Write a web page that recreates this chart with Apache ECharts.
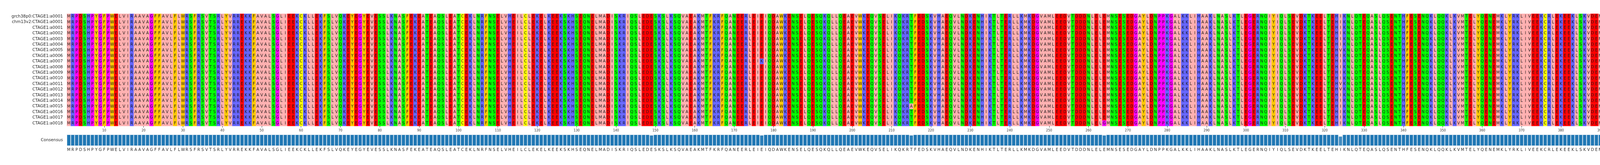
<!DOCTYPE html>
<html><head><meta charset="utf-8">
<script src="https://cdn.jsdelivr.net/npm/echarts@6/dist/echarts.min.js"></script>
<style>html,body{margin:0;padding:0;background:#fff}#c{width:7744px;height:423px}</style>
</head><body><div id="c"></div>
<script>
const rowNames = ['grch38p0:CTAGE1:a0001','chm13v2:CTAGE1:a0001','CTAGE1:a0001','CTAGE1:a0002','CTAGE1:a0003','CTAGE1:a0004','CTAGE1:a0005','CTAGE1:a0006','CTAGE1:a0007','CTAGE1:a0008','CTAGE1:a0009','CTAGE1:a0010','CTAGE1:a0011','CTAGE1:a0012','CTAGE1:a0013','CTAGE1:a0014','CTAGE1:a0015','CTAGE1:a0016','CTAGE1:a0017','CTAGE1:a0018'];
const consensusParts = [
 'MRPDSHPYGFPWELVIRAAVAGFFAVLFLWRSFRSVTSRLYVRREKKFAVALSGLIEEKCKLLEKFSLVQKEYE',
 'GYEVESSLKNASFEKEATEAQSLEATCEKLNRFNSELVHEILCLEKELKEEKSKHSEQNELMADISKRIQSL',
 'EDESKSLKSQVAEAKMTFKRFQANEERLEIEIQDAWKENSELQESQKQLLQEAEVWKEQVSELIKQKRTFED',
 'SKVHAEQVLNDKENHIKTLTERLLKMKDGVAMLEEDVTDDDNLELEMNSESEDGAYLDNPPKGALKKLIHA',
 'AKLNASLKTLEGERNQIYIQLSEVDKTKEELTEHIKNLQTEQASLQSENTHFESENQKLQQKLKVMTELYQ',
 'ENEMKLYRKLIVEEKCRLEKEEKLSKVDEMISHATEELETYRKRAKDLKEFEKTIHFYQKKIILHEKKAHDN',
 'WSAAWTAERNLNDLRKENAHNRQKLTEIEFKIKLLEKDPYGLDVPNTAFGRQHSPYGPSPLGWPSSETRASL',
 'YPPTLLEGPLRLSPLLPRGGGRGSRGPGNPPDHQITKERGESSCDRLTDPHRAPSDAGPLAPPWEQDYRMMF',
 'PPPGQSYPDSALPPQRQDRFYSNCARLSGPAELRSFNMPSLDKMDGSMPSEMESSRNDTKDNLGNLKVPDS',
 'SLPAENEATGPGFVPPPLAPIRGLLFPVDTRGPFIRRGPPFPPPPPGTVFGASPDYFSPRDVPGPPRAPFAM',
 'RNVYLPRGFLPYRPPRPAFFPPAPTF'
];
// [row index, column (1-based), residue]
const variants = [[8,177,'K'],[11,149,'D'],[16,215,'A'],[19,264,'G'],[6,324,'V'],[12,324,'V'],[13,324,'V'],
 [10,414,'I'],[18,411,'L'],[13,468,'G'],[14,475,'G'],[15,550,'K'],[17,614,'I'],
 [3,682,'V'],[6,682,'V'],[9,682,'V'],[15,682,'V'],[17,682,'V'],[19,682,'V'],
 [4,667,'L'],[5,686,'T'],[7,696,'M'],[9,696,'M']];

const consensus = consensusParts.join('').split('');
const nCol = consensus.length;
const seqs = rowNames.map(() => consensus.slice());
variants.forEach(([r,c,a]) => { seqs[r][c-1] = a; });
const positions = consensus.map((_,i) => String(i+1));
const conservation = consensus.map((a,i) => seqs.filter(s => s[i] === a).length / seqs.length);

const zappo = {};
'ILVAM'.split('').forEach(a=>zappo[a]='#ffafaf');
'FWY'.split('').forEach(a=>zappo[a]='#ffc800');
'KRH'.split('').forEach(a=>zappo[a]='#6464ff');
'DE'.split('').forEach(a=>zappo[a]='#ff0000');
'STNQ'.split('').forEach(a=>zappo[a]='#00ff00');
'PG'.split('').forEach(a=>zappo[a]='#ff00ff');
zappo['C']='#ffff00';

const cells = [], cellRes = [];
seqs.forEach((s,r) => s.forEach((a,c) => { cells.push([c, r]); cellRes.push(a); }));

function barColor(f){
  const base=[31,119,180];
  const c=base.map(v=>Math.round(v*f+255*(1-f)));
  return 'rgb('+c.join(',')+')';
}
const font = 'DejaVu Sans';
const chart = echarts.init(document.getElementById('c'), null, {renderer:'canvas'});
chart.setOption({
  animation:false,
  backgroundColor:'#fff',
  grid:[{left:171,right:64,top:35,height:288},{left:171,right:64,top:345,height:29}],
  xAxis:[
    {type:'category',gridIndex:0,data:positions,boundaryGap:true,
     axisLine:{show:false},
     axisTick:{show:true,alignWithLabel:true,length:4,interval:(i)=>(i+1)%10===0,lineStyle:{color:'#333'}},
     axisLabel:{interval:(i)=>(i+1)%10===0,fontSize:8,fontFamily:font,color:'#333',margin:8},
     splitLine:{show:false}},
    {type:'category',gridIndex:1,data:consensus,boundaryGap:true,
     axisLine:{show:false},axisTick:{show:false},
     axisLabel:{interval:0,fontSize:10,fontFamily:font,color:'#262626',margin:5}}
  ],
  yAxis:[
    {type:'category',gridIndex:0,data:rowNames,inverse:true,
     axisLine:{show:false},axisTick:{show:false},
     axisLabel:{fontSize:10.5,fontFamily:font,color:'#262626',margin:10}},
    {type:'category',gridIndex:0,data:rowNames,inverse:true,position:'right',
     axisLine:{show:false},axisTick:{show:false},
     axisLabel:{fontSize:10.5,fontFamily:font,color:'#262626',margin:12,align:'left',
       formatter:(v,i)=>String(seqs[i].filter(a=>a!=='-').length)}},
    {type:'value',gridIndex:1,min:0,max:1,show:false},
    {type:'category',gridIndex:1,data:['Consensus'],position:'left',
     axisLine:{show:false},axisTick:{show:false},
     axisLabel:{fontSize:10.5,fontFamily:font,color:'#262626',margin:10}}
  ],
  series:[
    {type:'custom',xAxisIndex:0,yAxisIndex:0,data:cells,progressive:0,
     encode:{x:0,y:1},
     renderItem:function(params,api){
       const x=api.value(0),y=api.value(1);
       const a=cellRes[params.dataIndex];
       const p=api.coord([x,y]);
       const sz=api.size([1,1]);
       return {type:'group',children:[
         {type:'rect',shape:{x:p[0]-sz[0]/2,y:p[1]-sz[1]/2,width:sz[0]+0.3,height:sz[1]+0.3},
          style:{fill:zappo[a]||'#ffffff'}},
         {type:'text',style:{x:p[0],y:p[1]+0.5,text:a,fill:'#1a1a1a',fontSize:10,fontFamily:font,
          align:'center',verticalAlign:'middle'}}
       ]};
     }},
    {type:'bar',xAxisIndex:1,yAxisIndex:2,barCategoryGap:0,
     data:conservation.map(f=>({value:f,itemStyle:{color:barColor(f)}})),
     itemStyle:{borderColor:'#d8e4ef',borderWidth:1}}
  ]
});
</script></body></html>
